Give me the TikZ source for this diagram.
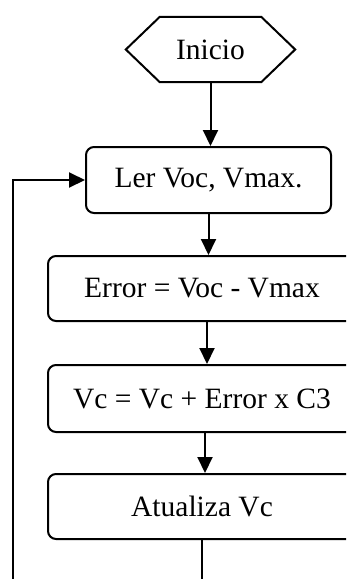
\documentclass[tikz,border=0pt]{standalone}
\usepackage{fontspec}
\setmainfont{Liberation Serif}
\usetikzlibrary{arrows.meta}
\tikzset{
    pbox/.style={draw,rounded corners=8pt,line width=2pt,inner sep=0pt,minimum height=65pt,font=\fontsize{29.5}{34}\selectfont},
    tnode/.style={inner sep=0pt,minimum width=169pt,minimum height=65pt,font=\fontsize{29.5}{34}\selectfont},
    flow/.style={
        every edge/.style={draw,line width=2pt,-{Triangle[length=16pt,width=15pt]}},
    }
}
\begin{document}
\begin{tikzpicture}[flow,x=1pt,y=-1pt]
\useasboundingbox (0,0) rectangle (346,579);
\clip (0,0) rectangle (346,579);
\node[tnode] (ini) at (210.5,49.5) {Inicio};
\draw[line width=2pt] (ini.west) -- ([xshift=34pt]ini.north west) -- ([xshift=-34pt]ini.north east)
    -- (ini.east) -- ([xshift=-34pt]ini.south east) -- ([xshift=34pt]ini.south west) -- cycle;
\node[pbox, minimum width=245pt, minimum height=66pt] (ler) at (208.5,180) {Ler Voc, Vmax.};
\node[pbox, minimum width=308pt] (err) at (202,288.5) {Error = Voc - Vmax};
\node[pbox, minimum width=308pt, minimum height=67pt] (vc) at (202,398.5) {Vc = Vc + Error x C3};
\node[pbox, minimum width=308pt] (atu) at (202,506.5) {Atualiza Vc};
\coordinate (out) at (202,579);
\coordinate (back) at (13,579);
\path
    (ini.south) edge (ini.south |- ler.north)
    (ler.south) edge (ler.south |- err.north)
    ([xshift=5pt]err.south) edge ([xshift=5pt]err.south |- vc.north)
    ([xshift=3pt]vc.south) edge ([xshift=3pt]vc.south |- atu.north)
    (back) edge[to path={|- (\tikztotarget)}] (ler.west)
;
\draw[line width=2pt] (atu.south) -- (out);
\end{tikzpicture}
\end{document}
